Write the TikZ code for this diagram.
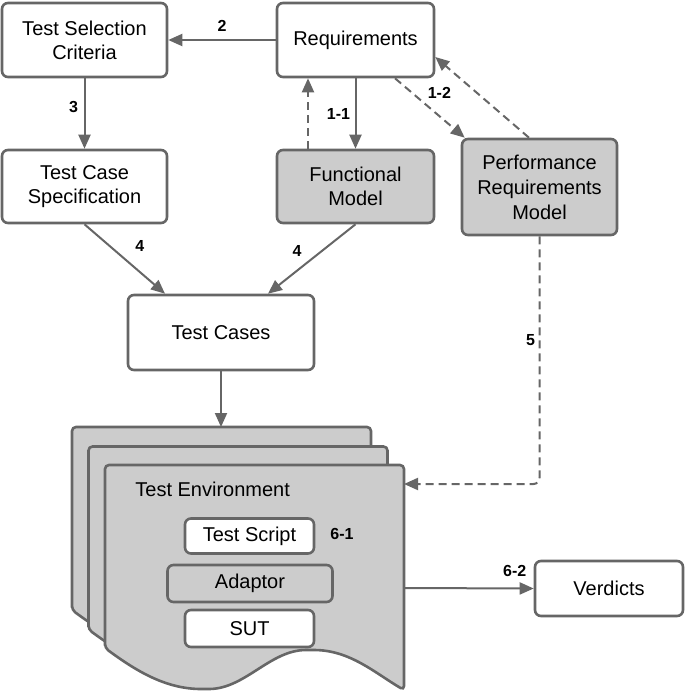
\documentclass[tikz,border=0pt]{standalone}
\usepackage{fontspec}
\setmainfont{Liberation Sans}
\usetikzlibrary{positioning}
\usetikzlibrary{arrows.meta}
\definecolor{linegray}{RGB}{102,102,102}
\definecolor{boxgray}{RGB}{204,204,204}
\tikzset{
    box/.style={ % Plain white boxes
    draw=linegray, line width=1.3pt, rounded corners=3pt,
    fill=white, align=center, inner sep=2pt,
    font=\fontsize{10}{12}\selectfont},
    graybox/.style={box, fill=boxgray}, % Model boxes
    page/.style={draw=linegray, line width=1.3pt, fill=boxgray, rounded corners=2pt},
    flow/.style={draw=linegray, line width=1pt, -{Triangle[length=7pt,width=6pt]}},
    dashflow/.style={flow, dash pattern=on 4pt off 2.5pt},
    num/.style={font=\bfseries\fontsize{8}{9}\selectfont, inner sep=0pt}}

\begin{document}
\begin{tikzpicture}[x=0.5pt, y=-0.5pt]
        \useasboundingbox (0,0) rectangle (685,691);

        % Top row
        \node[box, minimum width=82.5pt, minimum height=37pt] (tsc) at (84.5,40) {Test Selection\\Criteria};
        \node[box, minimum width=78.5pt, minimum height=37pt] (req) at (355.5,40) {Requirements};

        % Second row
        \node[box, minimum width=82.5pt, minimum height=36.5pt] (tcs) at (84.5,186.5) {Test Case\\Specification};
        \node[graybox, minimum width=78.5pt, minimum height=36.5pt] (fm) at (355.5,186.5) {Functional\\Model};
        \node[graybox, minimum width=77.5pt, minimum height=48pt, font=\fontsize{10}{12.5}\selectfont] (prm) at (539.5,187) {Performance\\Requirements\\Model};

        % Test cases
        \node[box, minimum width=93pt, minimum height=37.5pt] (tc) at (221,332.5) {Test Cases};

        % Stack of test environments
        \foreach \dx/\dy in {0/0, 16.5/19.5, 33/38} {
            \begin{scope}[shift={(72+\dx,427+\dy)}]
                \draw[page] (0,183) -- (0,0) -- (299,0) -- (299,225)
                    .. controls (270,208) and (245,185) .. (205,185)
                    .. controls (165,185) and (140,224) .. (100,224)
                    .. controls (60,224) and (30,205) .. (0,183) -- cycle;
            \end{scope}
        }
        \coordinate (stacktop) at (221,427);
        \coordinate (envin) at (404,484);
        \coordinate (envout) at (404,588);

        \node[anchor=west, inner sep=0pt, font=\fontsize{10}{12}\selectfont] (envname) at (135,489) {Test Environment};
        \node[box, minimum width=64.5pt, minimum height=17.5pt] (script) at (249.5,536) {Test Script};
        \node[graybox, minimum width=82.5pt, minimum height=18.5pt] (adaptor) at (250,583.5) {Adaptor};
        \node[box, minimum width=64.5pt, minimum height=18.5pt] (sut) at (249.5,628.5) {SUT};
        \node[num] (n61) at (342,534) {6-1};

        % Verdicts
        \node[box, minimum width=74pt, minimum height=27.5pt] (verd) at (609,588.5) {Verdicts};

        % Connectors
        \draw[flow] (req) -- (tsc) node[num, midway, above=3.7pt] {2};
        \draw[flow] (tsc) -- (tcs) node[num, pos=0.41, left=2.7pt] {3};
        \draw[flow] (req) -- (fm) node[num, midway, left=2.2pt] {1-1};
        \draw[dashflow] ([xshift=-23.75pt]fm.north) -- ([xshift=-23.75pt]req.south);
        \draw[dashflow] ([xshift=19.75pt]req.south) -- ([xshift=2pt]prm.north west)
            node[num, pos=0.25, right=7.2pt] {1-2};
        \draw[dashflow] ([xshift=-5.25pt]prm.north) -- ([yshift=-8.5pt]req.east);
        \draw[flow] (tcs.south) -- ([xshift=-28pt]tc.north)
            node[num, midway, xshift=7.5pt, yshift=6.5pt] {4};
        \draw[flow] (fm.south) -- ([xshift=23.5pt]tc.north)
            node[num, midway, xshift=-7.4pt, yshift=4pt] {4};
        \draw[flow] (tc) -- (stacktop);
        \draw[dashflow, rounded corners=3pt] (prm.south) |- (envin)
            node[num, pos=0.21, left=1.7pt] {5};
        \draw[flow] (envout) -- (verd.west)
            node[num, at end, xshift=-9.5pt, yshift=9pt] {6-2};

    \end{tikzpicture}
\end{document}
